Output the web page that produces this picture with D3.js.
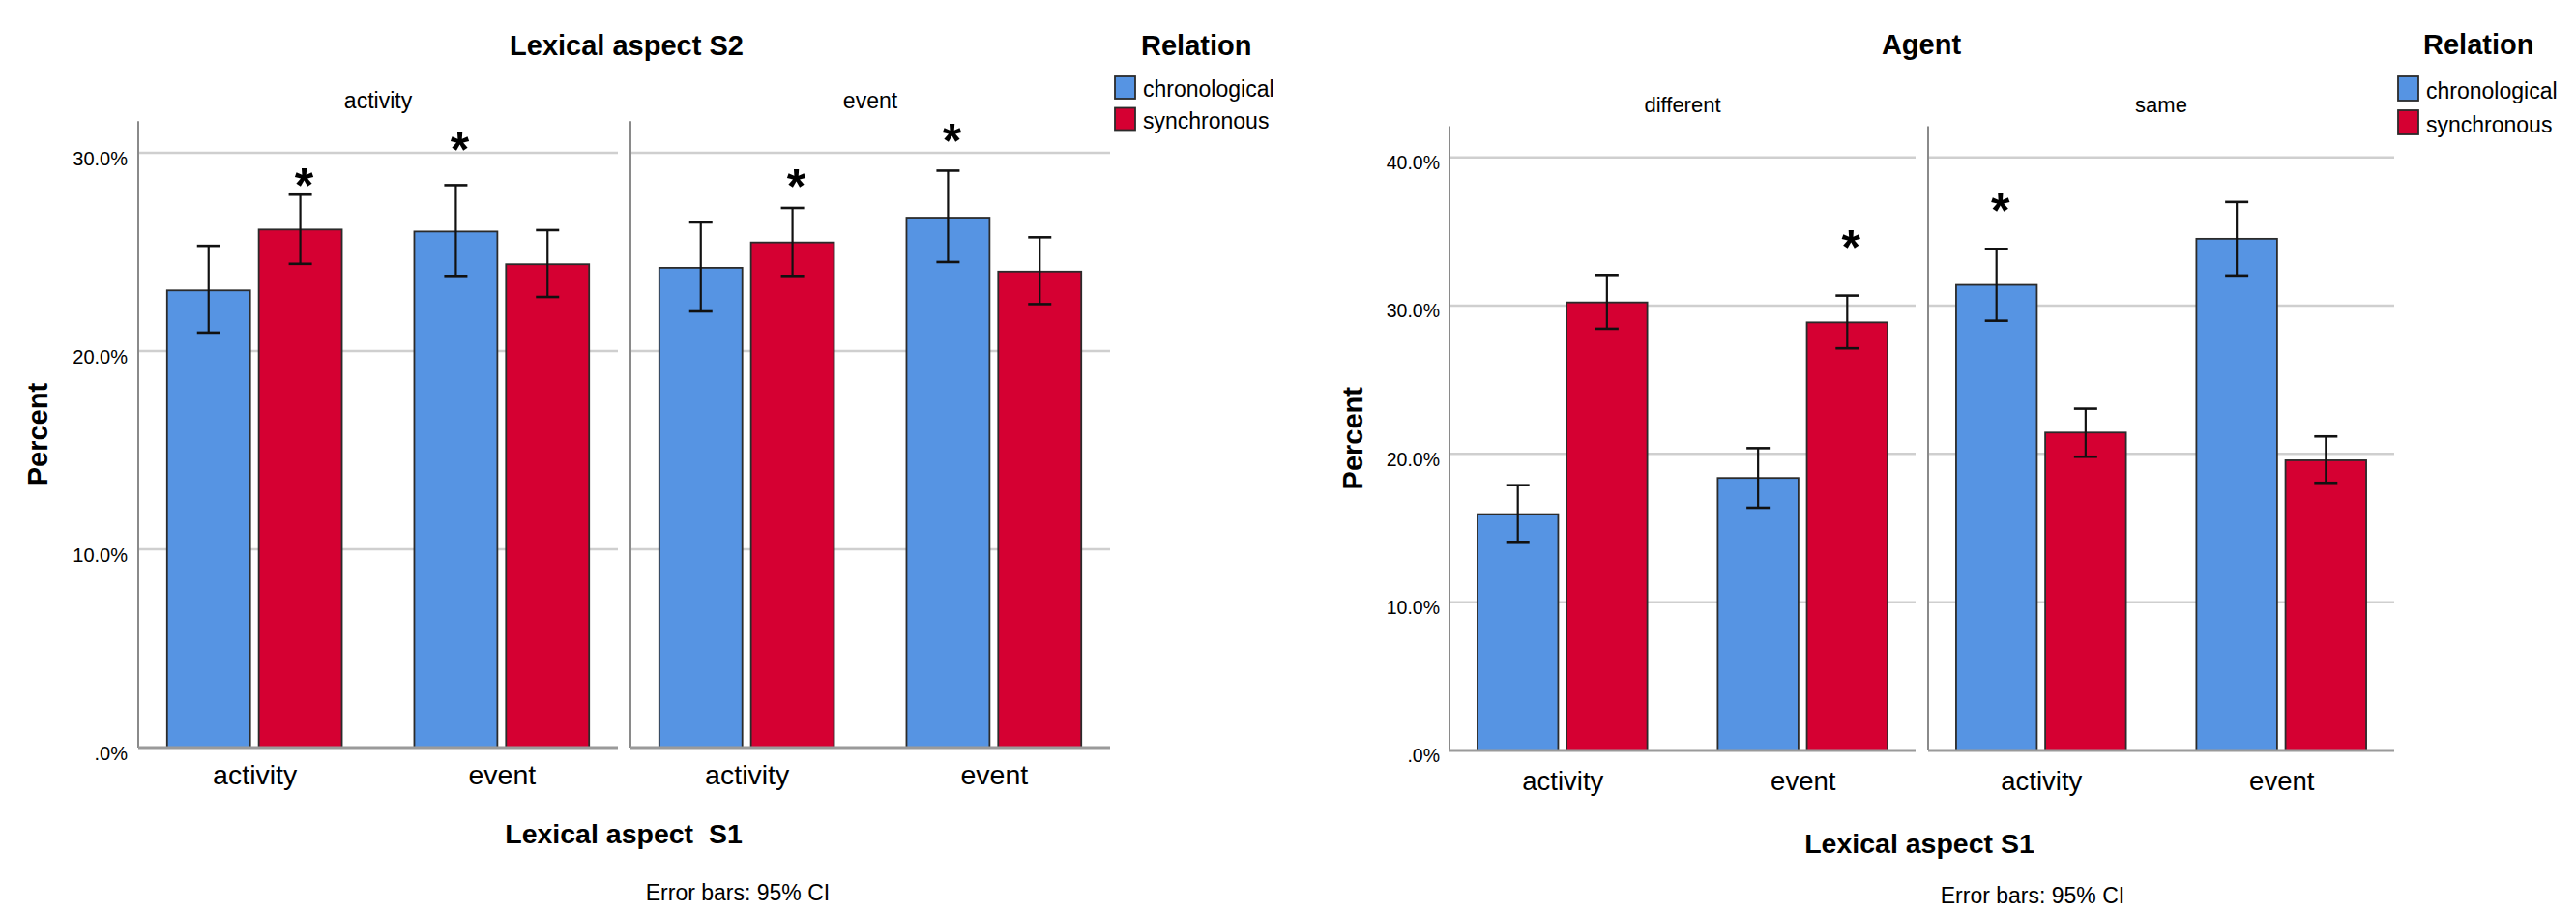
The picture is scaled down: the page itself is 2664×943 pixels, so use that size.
<!DOCTYPE html>
<html><head><meta charset="utf-8">
<script src="https://cdn.jsdelivr.net/npm/d3@7"></script>
<style>
body{margin:0;background:#fff}
svg{display:block}
text{font-family:"Liberation Sans",Arial,sans-serif;fill:#000}
</style>
</head><body>
<svg id="c" width="2664" height="943"></svg>
<script>
// ---------- shared categories ----------
const relations = ["chronological", "synchronous"];
const relationColors = ["#5694E3", "#D50032"];
const s1Categories = ["activity", "event"];

// ---------- chart 1: Lexical aspect S2 ----------
const c1Title = "Lexical aspect S2";
const c1XTitle = "Lexical aspect  S1";
const c1Panels = ["activity", "event"];
// order: panel -> S1 category -> relation
const c1Means = [23.06, 26.13, 26.03, 24.38, 24.20, 25.48, 26.73, 24.01];
const c1Low   = [20.93, 24.40, 23.79, 22.73, 22.00, 23.79, 24.49, 22.37];
const c1High  = [25.31, 27.89, 28.37, 26.10, 26.49, 27.22, 29.10, 25.74];
const c1YTicks = [0, 10, 20, 30];
const c1StarPanel = ["activity", "activity", "event", "event"];
const c1StarCat   = ["activity", "event", "activity", "event"];
const c1StarRel   = ["synchronous", "chronological", "synchronous", "chronological"];
const c1StarLevel = [28.9, 30.7, 28.85, 31.1];

// ---------- chart 2: Agent ----------
const c2Title = "Agent";
const c2XTitle = "Lexical aspect S1";
const c2Panels = ["different", "same"];
const c2Means = [15.94, 30.22, 18.38, 28.87, 31.40, 21.44, 34.51, 19.57];
const c2Low   = [14.07, 28.44, 16.37, 27.12, 28.98, 19.81, 32.03, 18.05];
const c2High  = [17.89, 32.07, 20.39, 30.68, 33.83, 23.05, 36.99, 21.18];
const c2YTicks = [0, 10, 20, 30, 40];
const c2StarPanel = ["different", "same"];
const c2StarCat   = ["event", "activity"];
const c2StarRel   = ["synchronous", "chronological"];
const c2StarLevel = [34.6, 37.1];

const legendTitle = "Relation";
const yTitle = "Percent";
const errorNote = "Error bars: 95% CI";

const svg = d3.select("#c");
const tickFmt = d => d === 0 ? ".0%" : d3.format(".1f")(d) + "%";

function drawChart(cfg) {
  const g = svg.append("g");
  const y = d3.scaleLinear().domain([0, cfg.yTicks[cfg.yTicks.length - 1]]).range([cfg.y0, cfg.yTopTick]);
  const axisTop = y(cfg.axisTopVal);
  const panelX = d3.scaleBand().domain(cfg.panels).range([cfg.left, cfg.left + cfg.panels.length * cfg.panelW + (cfg.panels.length - 1) * cfg.panelGap]).paddingInner(cfg.panelGap / (cfg.panelW + cfg.panelGap));
  const W = panelX.bandwidth();
  const x0 = d3.scalePoint().domain(s1Categories).range([0, W]).padding(0.47);
  const step = x0.step();
  const groupW = 0.707 * step;
  const x1 = d3.scaleBand().domain(relations).range([-groupW / 2, groupW / 2]).paddingInner(0.094);
  const color = d3.scaleOrdinal().domain(relations).range(relationColors);

  const rows = [];
  cfg.panels.forEach((p, i) => s1Categories.forEach((c, j) => relations.forEach((r, k) => {
    const idx = i * 4 + j * 2 + k;
    rows.push({panel: p, cat: c, rel: r, mean: cfg.means[idx], lo: cfg.low[idx], hi: cfg.high[idx]});
  })));

  cfg.panels.forEach(p => {
    const pg = g.append("g").attr("transform", `translate(${panelX(p)},0)`);
    pg.selectAll("line.grid").data(cfg.yTicks.filter(t => t > 0)).join("line")
      .attr("x1", 0).attr("x2", W).attr("y1", d => y(d)).attr("y2", d => y(d))
      .attr("stroke", "#cfcfcf").attr("stroke-width", 2.5);
    pg.append("line").attr("x1", 0).attr("x2", 0).attr("y1", axisTop).attr("y2", y(0))
      .attr("stroke", "#8a8a8a").attr("stroke-width", 2);
    pg.append("text").attr("x", W / 2).attr("y", cfg.panelLabelY).attr("text-anchor", "middle")
      .attr("font-size", cfg.panelLabelSize).attr("fill", "#222").text(p);
    const pr = rows.filter(d => d.panel === p);
    pg.selectAll("rect.bar").data(pr).join("rect")
      .attr("x", d => x0(d.cat) + x1(d.rel)).attr("width", x1.bandwidth())
      .attr("y", d => y(d.mean)).attr("height", d => y(0) - y(d.mean))
      .attr("fill", d => color(d.rel)).attr("stroke", "#2b2b2b").attr("stroke-width", 1.8);
    pg.append("line").attr("x1", 0).attr("x2", W).attr("y1", y(0)).attr("y2", y(0))
      .attr("stroke", "#9a9a9a").attr("stroke-width", 3);
    const eb = pg.selectAll("g.eb").data(pr).join("g")
      .attr("transform", d => `translate(${x0(d.cat) + x1(d.rel) + x1.bandwidth() / 2},0)`);
    eb.append("line").attr("y1", d => y(d.lo)).attr("y2", d => y(d.hi)).attr("stroke", "#111").attr("stroke-width", 2.2);
    eb.append("line").attr("x1", -12).attr("x2", 12).attr("y1", d => y(d.lo)).attr("y2", d => y(d.lo)).attr("stroke", "#111").attr("stroke-width", 2.6);
    eb.append("line").attr("x1", -12).attr("x2", 12).attr("y1", d => y(d.hi)).attr("y2", d => y(d.hi)).attr("stroke", "#111").attr("stroke-width", 2.6);
    const xa = pg.append("g").attr("transform", `translate(0,${y(0)})`)
      .call(d3.axisBottom(x0).tickSize(0).tickPadding(cfg.xTickPad));
    xa.select(".domain").remove();
    xa.selectAll("text").attr("font-size", cfg.xTickSize).attr("fill", "#222")
      .style("font-family", '"Liberation Sans",Arial,sans-serif');
  });

  const stars = cfg.starPanel.map((p, i) => ({panel: p, cat: cfg.starCat[i], rel: cfg.starRel[i], lvl: cfg.starLevel[i]}));
  g.selectAll("text.star").data(stars).join("text")
    .attr("x", d => panelX(d.panel) + x0(d.cat) + x1(d.rel) + x1.bandwidth() / 2 + 4)
    .attr("y", d => y(d.lvl) + 0.56 * 50)
    .attr("text-anchor", "middle").attr("font-size", 50).attr("font-weight", "bold").text("*");

  const ya = g.append("g").attr("transform", `translate(${cfg.left},0)`)
    .call(d3.axisLeft(y).tickValues(cfg.yTicks).tickFormat(tickFmt).tickSize(0).tickPadding(cfg.yTickPad));
  ya.select(".domain").remove();
  ya.selectAll("text").attr("font-size", cfg.yTickSize).attr("dy", "0.6em").attr("fill", "#222")
    .style("font-family", '"Liberation Sans",Arial,sans-serif');

  g.append("text").attr("x", cfg.titleX).attr("y", cfg.titleY).attr("text-anchor", "middle")
    .attr("font-size", 29).attr("font-weight", "bold").text(cfg.title);
  g.append("text").attr("transform", `translate(${cfg.yTitleX},${(axisTop + y(0)) / 2}) rotate(-90)`)
    .attr("text-anchor", "middle").attr("font-size", 29).attr("font-weight", "bold").text(yTitle);
  g.append("text").attr("x", cfg.xTitleX).attr("y", cfg.xTitleY).attr("text-anchor", "middle")
    .attr("font-size", 28.5).attr("font-weight", "bold").style("white-space", "pre").text(cfg.xTitle);
  g.append("text").attr("x", cfg.noteX).attr("y", cfg.noteY).attr("text-anchor", "middle")
    .attr("font-size", 23).attr("fill", "#222").text(errorNote);

  const lg = g.append("g").attr("transform", `translate(${cfg.legX},0)`);
  lg.append("text").attr("x", cfg.legTitleX - cfg.legX).attr("y", cfg.titleY).attr("font-size", 29)
    .attr("font-weight", "bold").text(legendTitle);
  relations.forEach((r, i) => {
    lg.append("rect").attr("x", 0).attr("y", cfg.legY + i * cfg.legStep).attr("width", 21).attr("height", cfg.legH)
      .attr("fill", color(r)).attr("stroke", "#2b2b2b").attr("stroke-width", 1.8);
    lg.append("text").attr("x", 29).attr("y", cfg.legY + i * cfg.legStep + cfg.legH - 2)
      .attr("font-size", 23).attr("fill", "#222").text(r);
  });
}

drawChart({
  title: c1Title, xTitle: c1XTitle, panels: c1Panels, means: c1Means, low: c1Low, high: c1High,
  yTicks: c1YTicks, starPanel: c1StarPanel, starCat: c1StarCat, starRel: c1StarRel, starLevel: c1StarLevel,
  left: 143, panelW: 496, panelGap: 13, y0: 773, yTopTick: 158, axisTopVal: 31.6,
  panelLabelY: 112, panelLabelSize: 23, xTickPad: 18, xTickSize: 28.5, yTickPad: 11, yTickSize: 20,
  titleX: 648, titleY: 57, yTitleX: 49, xTitleX: 645, xTitleY: 872, noteX: 763, noteY: 931,
  legX: 1153, legTitleX: 1180, legY: 79, legStep: 32.5, legH: 23
});

drawChart({
  title: c2Title, xTitle: c2XTitle, panels: c2Panels, means: c2Means, low: c2Low, high: c2High,
  yTicks: c2YTicks, starPanel: c2StarPanel, starCat: c2StarCat, starRel: c2StarRel, starLevel: c2StarLevel,
  left: 1499, panelW: 482, panelGap: 13, y0: 776, yTopTick: 162.7, axisTopVal: 42.1,
  panelLabelY: 116, panelLabelSize: 22, xTickPad: 21, xTickSize: 27.5, yTickPad: 10, yTickSize: 19.5,
  titleX: 1987, titleY: 56, yTitleX: 1409, xTitleX: 1985, xTitleY: 882, noteX: 2102, noteY: 934,
  legX: 2480, legTitleX: 2506, legY: 79, legStep: 35, legH: 25
});
</script>
</body></html>
